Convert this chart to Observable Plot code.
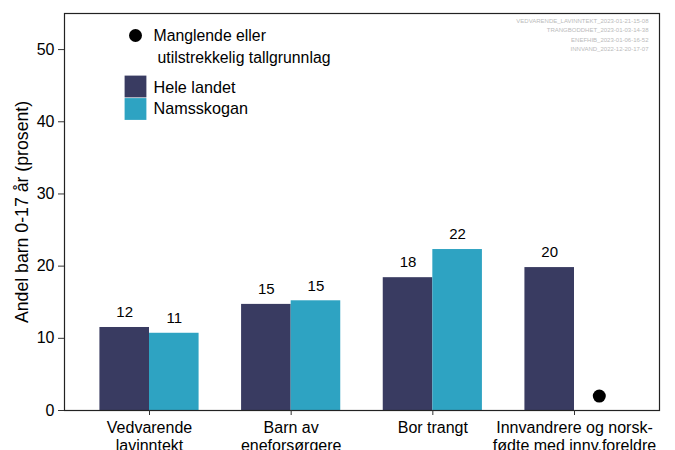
<!DOCTYPE html>
<html>
<head>
<meta charset="utf-8">
<script src="https://cdn.jsdelivr.net/npm/d3@7"></script>
<script src="https://cdn.jsdelivr.net/npm/@observablehq/plot@0.6"></script>
<style>
  html, body { margin: 0; padding: 0; background: #fff; }
  #chart { width: 675px; height: 450px; overflow: hidden; }
</style>
</head>
<body>
<div id="chart"></div>
<script>
const categories = [
  "Vedvarende\nlavinntekt",
  "Barn av\neneforsørgere",
  "Bor trangt",
  "Innvandrere og norsk-\nfødte med innv.foreldre"
];
const series = ["Hele landet", "Namsskogan"];
const heleLandet = [11.5, 14.7, 18.4, 19.8];
const namsskogan = [10.7, 15.2, 22.3, null];
const yTicks = [0, 10, 20, 30, 40, 50];
const yLabel = "Andel barn 0-17 år (prosent)";
const missingLabel = ["Manglende eller", "utilstrekkelig tallgrunnlag"];
const stamps = [
  "VEDVARENDE_LAVINNTEKT_2023-01-21-15-08",
  "TRANGBODDHET_2023-01-03-14-38",
  "ENEFHIB_2023-01-06-16-52",
  "INNVAND_2022-12-20-17-07"
];
const colors = ["#393B61", "#2EA3C2"];

const rows = categories.flatMap((c, i) =>
  series.map((s, j) => ({
    cat: c, pos: i + 1, series: s, j,
    value: j === 0 ? heleLandet[i] : namsskogan[i]
  }))
);
const bars = rows.filter(d => d.value != null);
const missing = rows.filter(d => d.value == null);
const W = 0.35;

const font = "Liberation Sans, Arial, sans-serif";

const chart = Plot.plot({
  width: 675,
  height: 450,
  marginLeft: 64,
  marginRight: 16,
  marginTop: 13,
  marginBottom: 40,
  style: { fontFamily: font, color: "#000", background: "#fff" },
  x: { type: "linear", domain: [0.4, 4.6] },
  y: { domain: [0, 55] },
  color: { domain: series, range: colors },
  marks: [
    Plot.rect(bars, {
      x1: d => d.pos + (d.j - 1) * W,
      x2: d => d.pos + d.j * W,
      y1: 0,
      y2: "value",
      fill: "series"
    }),
    Plot.text(bars, {
      x: d => d.pos + (d.j - 0.5) * W,
      y: "value",
      text: d => String(Math.round(d.value)),
      dy: -15,
      fontSize: 15,
      fill: "#000"
    }),
    Plot.dot(missing, {
      x: d => d.pos + (d.j - 0.5) * W,
      y: () => 2,
      r: 6.5,
      fill: "#000"
    }),
    Plot.frame({ stroke: "#222", strokeWidth: 1.2 }),
    Plot.axisY({ ticks: yTicks, tickSize: 6, tickPadding: 4, fontSize: 16, label: null, stroke: "#333" }),
    Plot.axisX({
      ticks: [1, 2, 3, 4],
      tickFormat: i => categories[i - 1],
      tickSize: 5, tickPadding: 4, fontSize: 16, lineHeight: 1.15, label: null, stroke: "#333"
    }),
    Plot.text([yLabel], {
      text: d => d, frameAnchor: "left", dx: -42, rotate: -90, fontSize: 17.7,
      textAnchor: "middle", lineAnchor: "middle", fill: "#000"
    }),
    // legend: missing marker
    Plot.dot([0], { frameAnchor: "top-left", dx: 71, dy: 22, r: 6.5, fill: "#000" }),
    Plot.text([missingLabel[0]], { text: d => d, frameAnchor: "top-left", dx: 89, dy: 22, textAnchor: "start", lineAnchor: "middle", fontSize: 15.8, fill: "#000" }),
    Plot.text([missingLabel[1]], { text: d => d, frameAnchor: "top-left", dx: 93, dy: 44, textAnchor: "start", lineAnchor: "middle", fontSize: 15.8, fill: "#000" }),
    // legend: series
    Plot.dot([series[0]], { frameAnchor: "top-left", dx: 71, dy: 73, symbol: "square", r: 12.3, fill: colors[0] }),
    Plot.dot([series[1]], { frameAnchor: "top-left", dx: 71, dy: 95.5, symbol: "square", r: 12.3, fill: colors[1] }),
    Plot.text([series[0]], { text: d => d, frameAnchor: "top-left", dx: 89, dy: 74, textAnchor: "start", lineAnchor: "middle", fontSize: 16.2, fill: "#000" }),
    Plot.text([series[1]], { text: d => d, frameAnchor: "top-left", dx: 89, dy: 95.5, textAnchor: "start", lineAnchor: "middle", fontSize: 16.2, fill: "#000" }),
    // top-right stamps
    Plot.text([stamps.join("\n")], {
      text: d => d, frameAnchor: "top-right", dx: -11, dy: 3, textAnchor: "end", lineAnchor: "top",
      fontSize: 6, lineHeight: 1.55, fill: "#bbb"
    })
  ]
});
document.getElementById("chart").appendChild(chart);
</script>
</body>
</html>
